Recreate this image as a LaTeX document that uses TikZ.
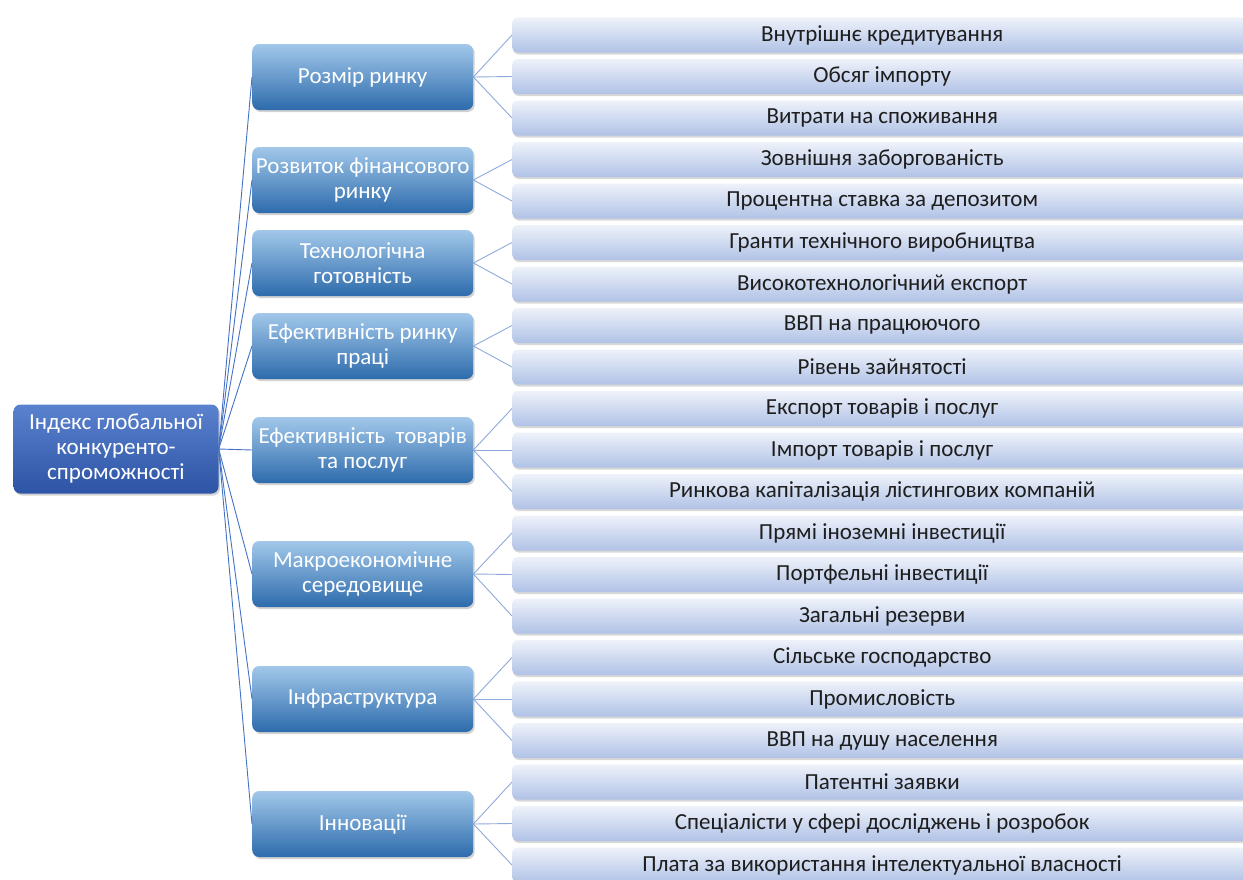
\documentclass[tikz,border=0pt]{standalone}
\usepackage{fontspec}
\setmainfont{Carlito}
\usetikzlibrary{shadows}
\definecolor{rootA}{HTML}{5B82CE}
\definecolor{rootB}{HTML}{2D54A5}
\definecolor{catA}{HTML}{A2C8EA}
\definecolor{catB}{HTML}{2D6BAC}
\definecolor{leafA}{HTML}{EEF2FA}
\definecolor{leafB}{HTML}{B0C2E6}
\definecolor{lineA}{HTML}{4472C4}
\definecolor{lineB}{HTML}{8FAADC}
\definecolor{leaftext}{HTML}{1E1E1E}
\begin{document}
\begin{tikzpicture}[x=1pt,y=-1pt,
  rootbox/.style={rounded corners=7pt, top color=rootA, bottom color=rootB, text=white,
    minimum width=205pt, minimum height=89pt, align=center, inner sep=0pt,
    font=\fontsize{23}{25}\selectfont,
    drop shadow={opacity=0.35, shadow xshift=1.5pt, shadow yshift=-2pt}},
  catbox/.style={rounded corners=7pt, top color=catA, bottom color=catB, text=white,
    minimum width=221pt, minimum height=66pt, align=center, inner sep=0pt, anchor=west,
    font=\fontsize{23}{25}\selectfont,
    drop shadow={opacity=0.35, shadow xshift=1.5pt, shadow yshift=-2pt}},
  leafbox/.style={rounded corners=5pt, top color=leafA, bottom color=leafB, text=leaftext,
    minimum width=740pt, minimum height=35pt, inner sep=0pt, anchor=west,
    font=\fontsize{23}{25}\selectfont,
    drop shadow={opacity=0.3, shadow xshift=1pt, shadow yshift=-2pt}},
  rootline/.style={lineA, line width=0.9pt},
  leafline/.style={lineB, line width=0.9pt}
]
\useasboundingbox (0,0) rectangle (1243,879);
\fill[white] (0,0) rectangle (1243,879);

\node[rootbox] (root) at (116,449) {Індекс глобальної\\конкуренто-\\спроможності};

\node[catbox] (c1) at (252,77) {Розмір ринку};
\node[catbox] (c2) at (252,180) {Розвиток фінансового\\ринку};
\node[catbox] (c3) at (252,263) {Технологічна\\готовність};
\node[catbox] (c4) at (252,346) {Ефективність ринку\\праці};
\node[catbox] (c5) at (252,450) {Ефективність\ \ товарів\\та послуг};
\node[catbox] (c6) at (252,574) {Макроекономічне\\середовище};
\node[catbox] (c7) at (252,699) {Інфраструктура};
\node[catbox] (c8) at (252,824) {Інновації};

\node[leafbox] (l0) at (512,35) {Внутрішнє кредитування};
\node[leafbox] (l1) at (512,76.5) {Обсяг імпорту};
\node[leafbox] (l2) at (512,118) {Витрати на споживання};
\node[leafbox] (l3) at (512,159.5) {Зовнішня заборгованість};
\node[leafbox] (l4) at (512,201) {Процентна ставка за депозитом};
\node[leafbox] (l5) at (512,242.5) {Гранти технічного виробництва};
\node[leafbox] (l6) at (512,284) {Високотехнологічний експорт};
\node[leafbox] (l7) at (512,325.5) {ВВП на працюючого};
\node[leafbox] (l8) at (512,367) {Рівень зайнятості};
\node[leafbox] (l9) at (512,408.5) {Експорт товарів і послуг};
\node[leafbox] (l10) at (512,450) {Імпорт товарів і послуг};
\node[leafbox] (l11) at (512,491.5) {Ринкова капіталізація лістингових компаній};
\node[leafbox] (l12) at (512,533) {Прямі іноземні інвестиції};
\node[leafbox] (l13) at (512,574.5) {Портфельні інвестиції};
\node[leafbox] (l14) at (512,616) {Загальні резерви};
\node[leafbox] (l15) at (512,657.5) {Сільське господарство};
\node[leafbox] (l16) at (512,699) {Промисловість};
\node[leafbox] (l17) at (512,740.5) {ВВП на душу населення};
\node[leafbox] (l18) at (512,782) {Патентні заявки};
\node[leafbox] (l19) at (512,823.5) {Спеціалісти у сфері досліджень і розробок};
\node[leafbox] (l20) at (512,865) {Плата за використання інтелектуальної власності};

\foreach \c in {c1,c2,c3,c4,c5,c6,c7,c8}
  \draw[rootline] (root.east) -- (\c.west);

\foreach \c/\l in {c1/l0,c1/l1,c1/l2,c2/l3,c2/l4,c3/l5,c3/l6,c4/l7,c4/l8,
  c5/l9,c5/l10,c5/l11,c6/l12,c6/l13,c6/l14,c7/l15,c7/l16,c7/l17,c8/l18,c8/l19,c8/l20}
  \draw[leafline] (\c.east) -- (\l.west);
\end{tikzpicture}
\end{document}
